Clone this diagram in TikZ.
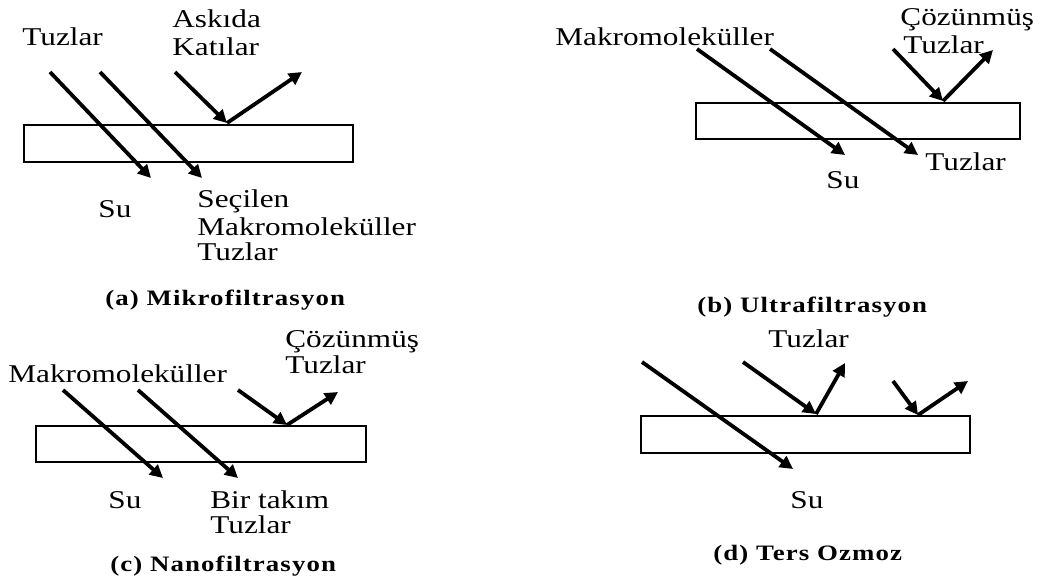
\documentclass[tikz,border=0pt]{standalone}
\usepackage{fontspec}
\setmainfont{Liberation Serif}[FakeStretch=1.22]
\newfontfamily\capfont{Liberation Serif}[FakeStretch=1.22,LetterSpace=5]
\usetikzlibrary{arrows.meta}
\begin{document}
\begin{tikzpicture}[x=0.5pt,y=-0.5pt,
  lab/.style={inner sep=0pt,anchor=base west,font=\fontsize{12.8}{15}\selectfont},
  captxt/.style={inner sep=0pt,anchor=base west,font=\capfont\fontsize{11}{13}\selectfont\bfseries},
  flow/.style={line width=1.9pt,-{Triangle[length=6.5pt,width=6.5pt]}},
  membrane/.style={draw,line width=1.1pt}]
\useasboundingbox (0,0) rectangle (1052,580);
% ---------- (a) ----------
\draw[membrane] (24,125) rectangle (353,162);
\coordinate (a1s) at (50,72);  \coordinate (a1e) at (151,178);
\coordinate (a2s) at (100,72); \coordinate (a2e) at (202,178);
\coordinate (a3s) at (175,72); \coordinate (a3e) at (227,123);
\coordinate (a4e) at (302,72);
\draw[flow] (a1s) -- (a1e);
\draw[flow] (a2s) -- (a2e);
\draw[flow] (a3s) -- (a3e);
\draw[flow] (a3e) -- (a4e);
\node[lab] (ta1) at (22,45) {Tuzlar};
\node[lab] (ta2) at (172,27) {Askıda};
\node[lab] (ta3) at (172,55) {Katılar};
\node[lab] (ta4) at (98,217) {Su};
\node[lab] (ta5) at (197,207) {Seçilen};
\node[lab] (ta6) at (197,235) {Makromoleküller};
\node[lab] (ta7) at (197,260) {Tuzlar};
\node[captxt] (capa) at (105,305) {(a) Mikrofiltrasyon};
% ---------- (b) ----------
\draw[membrane] (696,103) rectangle (1020,139);
\coordinate (b1s) at (697,49); \coordinate (b1e) at (845,155);
\coordinate (b2s) at (770,49); \coordinate (b2e) at (918,155);
\coordinate (b3s) at (893,49); \coordinate (b3e) at (943,101);
\coordinate (b4e) at (993,50);
\draw[flow] (b1s) -- (b1e);
\draw[flow] (b2s) -- (b2e);
\draw[flow] (b3s) -- (b3e);
\draw[flow] (b3e) -- (b4e);
\node[lab] (tb1) at (555,45) {Makromoleküller};
\node[lab] (tb2) at (900,25) {Çözünmüş};
\node[lab] (tb3) at (903,53) {Tuzlar};
\node[lab] (tb4) at (925,170) {Tuzlar};
\node[lab] (tb5) at (826,188) {Su};
\node[captxt] (capb) at (697,312) {(b) Ultrafiltrasyon};
% ---------- (c) ----------
\draw[membrane] (36,426) rectangle (366,462);
\coordinate (c1s) at (63,390);  \coordinate (c1e) at (163,478);
\coordinate (c2s) at (138,390); \coordinate (c2e) at (238,478);
\coordinate (c3s) at (238,390); \coordinate (c3e) at (287,425);
\coordinate (c4e) at (338,392);
\draw[flow] (c1s) -- (c1e);
\draw[flow] (c2s) -- (c2e);
\draw[flow] (c3s) -- (c3e);
\draw[flow] (c3e) -- (c4e);
\node[lab] (tc1) at (8,382) {Makromoleküller};
\node[lab] (tc2) at (285,347) {Çözünmüş};
\node[lab] (tc3) at (285,373) {Tuzlar};
\node[lab] (tc4) at (108,508) {Su};
\node[lab] (tc5) at (210,508) {Bir takım};
\node[lab] (tc6) at (210,533) {Tuzlar};
\node[captxt] (capc) at (110,571) {(c) Nanofiltrasyon};
% ---------- (d) ----------
\draw[membrane] (641,416) rectangle (970,453);
\coordinate (d1s) at (642,362); \coordinate (d1e) at (793,469);
\coordinate (d2s) at (743,362); \coordinate (d2e) at (816,414);
\coordinate (d3e) at (845,363);
\coordinate (d4s) at (893,381); \coordinate (d4e) at (918,415);
\coordinate (d5e) at (968,381);
\draw[flow] (d1s) -- (d1e);
\draw[flow] (d2s) -- (d2e);
\draw[flow] (d2e) -- (d3e);
\draw[flow] (d4s) -- (d4e);
\draw[flow] (d4e) -- (d5e);
\node[lab] (td1) at (768,347) {Tuzlar};
\node[lab] (td2) at (790,508) {Su};
\node[captxt] (capd) at (713,560) {(d) Ters Ozmoz};
\end{tikzpicture}
\end{document}
